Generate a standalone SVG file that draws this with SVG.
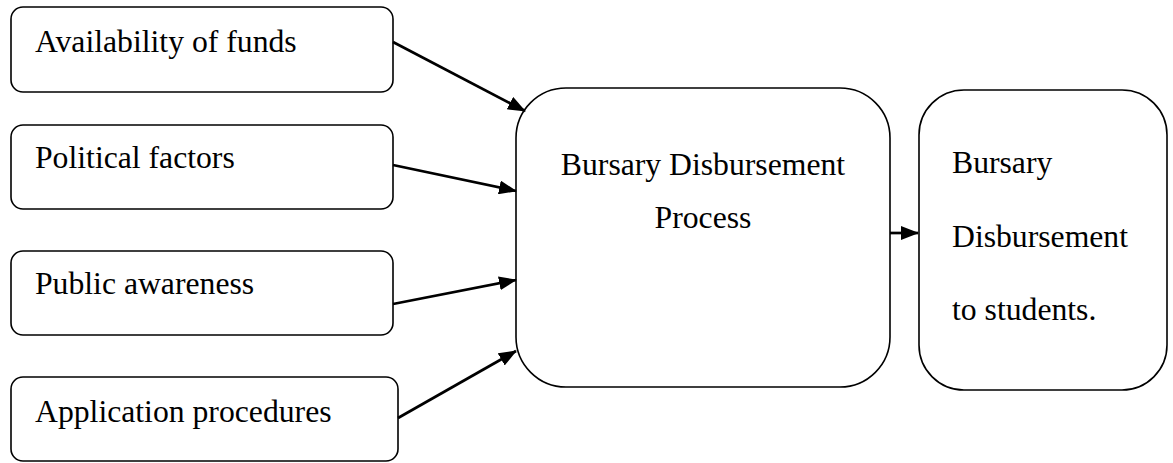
<svg xmlns="http://www.w3.org/2000/svg" width="1173" height="463" viewBox="0 0 1173 463">
<style>
.box{fill:#fff;stroke:#000;stroke-width:1.6}
.lbl{font-family:"Liberation Serif","Times New Roman","DejaVu Serif",serif;font-size:31.7px;fill:#000}
.conn{stroke:#000;stroke-width:2.7;fill:none}
</style>
<defs>
<marker id="ah" viewBox="0 0 18 14" refX="17" refY="7" markerWidth="18" markerHeight="14" markerUnits="userSpaceOnUse" orient="auto">
<path d="M0,0 L18,7 L0,14 z" fill="#000"/>
</marker>
</defs>
<rect width="1173" height="463" fill="#fff"/>
<g id="n1"><rect class="box" x="11" y="7" width="382" height="85" rx="12"/><text class="lbl" x="35" y="52">Availability of funds</text></g>
<g id="n2"><rect class="box" x="11" y="125" width="382" height="84" rx="12"/><text class="lbl" x="35" y="168">Political factors</text></g>
<g id="n3"><rect class="box" x="11" y="251" width="382" height="84" rx="12"/><text class="lbl" x="35" y="294">Public awareness</text></g>
<g id="n4"><rect class="box" x="11" y="377" width="387" height="84" rx="12"/><text class="lbl" x="35" y="422">Application procedures</text></g>
<g id="n5"><rect class="box" x="516" y="88" width="374" height="299" rx="50"/><text class="lbl" x="703" y="175" text-anchor="middle">Bursary Disbursement</text><text class="lbl" x="703" y="228" text-anchor="middle">Process</text></g>
<g id="n6"><rect class="box" x="919" y="90" width="248" height="300" rx="45"/><text class="lbl" x="952" y="173">Bursary</text><text class="lbl" x="952" y="247">Disbursement</text><text class="lbl" x="952" y="320">to students.</text></g>
<g id="connectors">
<line class="conn" x1="393" y1="42" x2="525" y2="111" marker-end="url(#ah)"/>
<line class="conn" x1="393" y1="165" x2="516" y2="191" marker-end="url(#ah)"/>
<line class="conn" x1="393" y1="304" x2="516" y2="280" marker-end="url(#ah)"/>
<line class="conn" x1="398" y1="418" x2="516" y2="351" marker-end="url(#ah)"/>
<line class="conn" x1="890" y1="233" x2="918" y2="233" marker-end="url(#ah)"/>
</g>
</svg>
